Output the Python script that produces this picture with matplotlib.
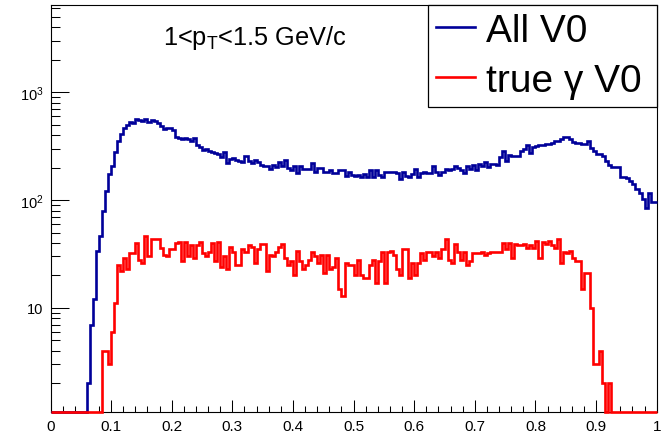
import numpy as np
import matplotlib
matplotlib.use('Agg')
import matplotlib.pyplot as plt
from matplotlib.ticker import FixedLocator, FixedFormatter, LogLocator, NullFormatter, MultipleLocator

# ---------------- data ----------------
x_min, x_max, n_bins = 0.0, 1.0, 200

all_v0 = [
    0, 0, 0, 0, 0, 0, 0, 0, 0, 0, 0, 0, 2, 7, 12, 34, 46, 80, 121, 175,
    206, 278, 354, 408, 464, 502, 527, 515, 566, 554, 543, 566, 527, 556, 540, 520, 490, 456, 462, 465,
    450, 383, 380, 372, 375, 370, 356, 375, 325, 308, 290, 297, 287, 277, 275, 265, 250, 281, 220, 240,
    245, 235, 230, 224, 254, 230, 222, 237, 224, 212, 206, 206, 194, 212, 202, 224, 206, 237, 197, 188,
    206, 178, 206, 194, 194, 194, 221, 181, 197, 197, 181, 181, 188, 178, 178, 188, 188, 168, 181, 171,
    166, 171, 163, 174, 163, 188, 163, 191, 171, 163, 181, 181, 181, 181, 178, 157, 183, 166, 163, 174,
    194, 163, 178, 181, 178, 178, 206, 183, 171, 183, 194, 188, 194, 206, 200, 188, 178, 206, 194, 212,
    191, 216, 206, 224, 202, 216, 216, 212, 249, 287, 232, 259, 255, 255, 255, 287, 297, 325, 273, 308,
    320, 325, 325, 331, 331, 340, 356, 356, 369, 383, 383, 369, 349, 340, 340, 331, 331, 356, 302, 287,
    268, 268, 254, 232, 212, 202, 202, 202, 163, 163, 160, 150, 140, 128, 116, 102, 84, 116, 96, 96,
]

true_gamma_v0 = [
    0, 0, 0, 0, 0, 0, 0, 0, 0, 0, 0, 0, 0, 0, 0, 0, 0, 4, 4, 3,
    6, 11, 25, 22, 29, 23, 32, 32, 40, 28, 26, 46, 30, 44, 44, 44, 36, 31, 30, 35,
    35, 40, 41, 27, 41, 30, 38, 29, 38, 41, 32, 30, 33, 40, 27, 41, 24, 30, 23, 37,
    33, 25, 25, 35, 33, 38, 37, 26, 35, 39, 39, 22, 31, 30, 33, 37, 39, 29, 25, 27,
    20, 34, 27, 23, 25, 28, 33, 30, 26, 31, 21, 31, 23, 24, 29, 15, 13, 26, 25, 25,
    20, 28, 20, 19, 19, 25, 28, 17, 27, 33, 17, 33, 34, 31, 23, 20, 35, 35, 19, 26,
    20, 26, 32, 28, 33, 33, 30, 33, 29, 35, 44, 28, 26, 39, 33, 28, 33, 25, 27, 32,
    32, 32, 33, 31, 32, 33, 33, 33, 33, 40, 35, 40, 29, 39, 38, 38, 39, 36, 38, 36,
    42, 29, 41, 39, 42, 38, 36, 44, 26, 33, 32, 34, 29, 27, 27, 15, 21, 21, 10, 3,
    3, 4, 2, 0, 2, 0, 0, 0, 0, 0, 0, 0, 0, 0, 0, 0, 0, 0, 0, 0,
]

legend_labels = ['All V0', 'true \u03b3 V0']
series_colors = ['#000099', '#ff0000']
title_text = r'1<p$_{T}$<1.5 GeV/c'

x_ticks = [0.0, 0.1, 0.2, 0.3, 0.4, 0.5, 0.6, 0.7, 0.8, 0.9, 1.0]
x_tick_labels = ['0', '0.1', '0.2', '0.3', '0.4', '0.5', '0.6', '0.7', '0.8', '0.9', '1']
y_ticks = [10, 100, 1000]
y_tick_labels = ['10', r'10$^{2}$', r'10$^{3}$']
y_lim = (1.09, 6440)

# ---------------- style ----------------
plt.rcParams['font.family'] = ['Liberation Sans', 'DejaVu Sans']
plt.rcParams['mathtext.default'] = 'regular'

fig = plt.figure(figsize=(6.65, 4.35), dpi=100)
fig.patch.set_facecolor('white')
ax = fig.add_axes([50.5 / 665, 22.3 / 435, 606.2 / 665, 406.7 / 435])

edges = np.linspace(x_min, x_max, n_bins + 1)
for vals, col, lab in zip([all_v0, true_gamma_v0], series_colors, legend_labels):
    ax.stairs(np.clip(np.asarray(vals, dtype=float), y_lim[0], None), edges,
              color=col, lw=1.9, baseline=None, label=lab, clip_on=False, zorder=3)

ax.set_yscale('log')
ax.set_xlim(x_min, x_max)
ax.set_ylim(*y_lim)

ax.xaxis.set_major_locator(FixedLocator(x_ticks))
ax.xaxis.set_major_formatter(FixedFormatter(x_tick_labels))
ax.xaxis.set_minor_locator(MultipleLocator(0.02))
ax.yaxis.set_major_locator(FixedLocator(y_ticks))
ax.yaxis.set_major_formatter(FixedFormatter(y_tick_labels))
ax.yaxis.set_minor_locator(LogLocator(base=10, subs=range(2, 10), numticks=20))
ax.yaxis.set_minor_formatter(NullFormatter())

ax.tick_params(axis='both', which='both', direction='in', top=False, right=False,
               width=0.75, color='black')
ax.tick_params(axis='x', which='major', length=8.4, labelsize=11, pad=5)
ax.tick_params(axis='x', which='minor', length=4.2)
ax.tick_params(axis='y', which='major', length=12.6, labelsize=10.5, pad=5)
ax.tick_params(axis='y', which='minor', length=6.5)
for sp in ax.spines.values():
    sp.set_linewidth(0.8)
    sp.set_color('black')

fig.text(163 / 665, 1 - 45 / 435, title_text, fontsize=18.3, ha='left', va='baseline')

leg_x0 = (428 - 50.5) / 606.2
leg = ax.legend(loc='upper left', bbox_to_anchor=(leg_x0, 0.0, 1.0 - leg_x0, 1.0),
                mode='expand', borderaxespad=0.0,
                fontsize=28, frameon=True, fancybox=False, framealpha=1.0,
                edgecolor='black', handlelength=1.0, handletextpad=0.28,
                borderpad=0.2, labelspacing=0.36)
leg.get_frame().set_linewidth(0.9)
for h in leg.legend_handles:
    h.set_linewidth(1.9)

fig.savefig('out.png', dpi=100)
